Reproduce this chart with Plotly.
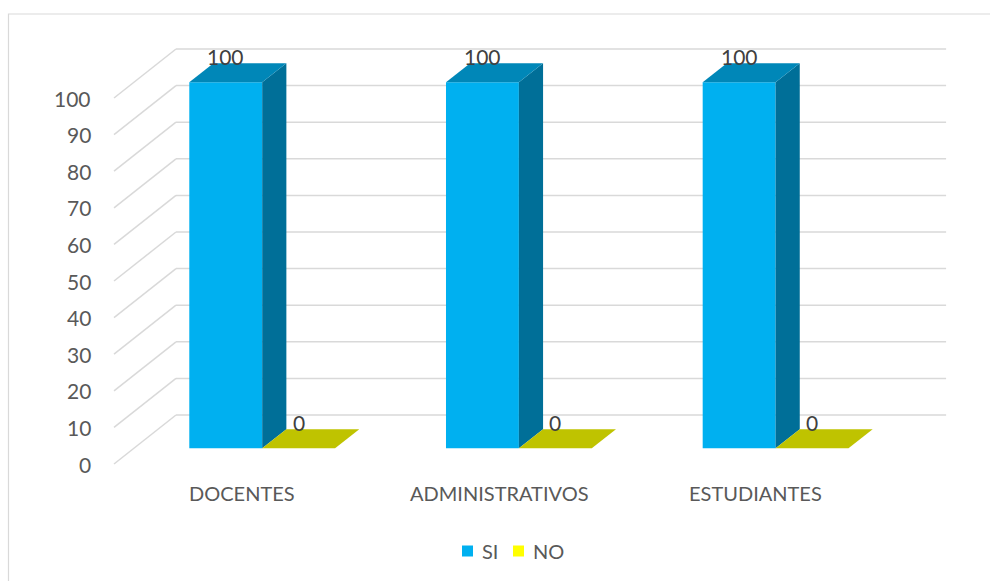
import plotly.graph_objects as go

# ---- data ----
categories = ["DOCENTES", "ADMINISTRATIVOS", "ESTUDIANTES"]
series_names = ["SI", "NO"]
si_values = [100, 100, 100]
no_values = [0, 0, 0]
y_ticks = [0, 10, 20, 30, 40, 50, 60, 70, 80, 90, 100]

# ---- styling ----
FRONT = {"SI": "#00B0F0", "NO": "#FFFF00"}
SIDE = {"SI": "#006F98", "NO": "#A5A800"}
TOP = {"SI": "#0087B8", "NO": "#BFC300"}
GRID = "#D9D9D9"
TEXT = "#595959"
LABEL = "#404040"
FONT = "Lato, 'Open Sans', sans-serif"

W, H = 990, 581
# scale of the front plane in pixels
PX_CAT = 256.7       # one category slot
PX_UNIT = 3.66       # one value unit
LEFT_PX = 114        # front plane, left edge
ZERO_PX = 464        # front plane, value 0
# oblique depth of the 3-D box (full depth), in data units
DX = 62 / PX_CAT
DY = 49 / PX_UNIT
# depth range occupied by the columns
D_FRONT, D_BACK = 0.32, 0.71
BAR_W = 0.284        # column width in category units


def proj(u, v, d):
    """Oblique projection of (category pos, value, depth) to data coords."""
    return u + d * DX, v + d * DY


fig = go.Figure()

# gridlines: back wall horizontals + left wall diagonals
shapes = []
n_cat = len(categories)
for t in y_ticks:
    x0, y0 = proj(0, t, 1)
    x1, y1 = proj(n_cat, t, 1)
    shapes.append(dict(type="line", xref="x", yref="y", x0=x0, y0=y0, x1=x1, y1=y1,
                       line=dict(color=GRID, width=1.5), layer="below"))
    fx, fy = proj(0, t, 0)
    shapes.append(dict(type="line", xref="x", yref="y", x0=fx, y0=fy, x1=x0, y1=y0,
                       line=dict(color=GRID, width=1.5), layer="below"))

# outer chart border
shapes.append(dict(type="rect", xref="paper", yref="paper",
                   x0=8.5 / W, x1=1.02, y0=-0.02, y1=1 - 14 / H,
                   line=dict(color=GRID, width=1.2), layer="below"))

annotations = []

for s_idx, (name, values) in enumerate(zip(series_names, [si_values, no_values])):
    lefts = [i + 0.5 - BAR_W + s_idx * BAR_W for i in range(n_cat)]
    # front faces as bars
    fx = [proj(l + BAR_W / 2, 0, D_FRONT)[0] for l in lefts]
    base = [proj(0, 0, D_FRONT)[1]] * n_cat
    fig.add_trace(go.Bar(
        x=fx, y=values, base=base, width=[BAR_W] * n_cat, name=name,
        marker=dict(color=FRONT[name], line=dict(width=0)),
        showlegend=False, hoverinfo="skip",
    ))
    for l, v in zip(lefts, values):
        r = l + BAR_W
        # side face
        if v > 0:
            pts = [proj(r, 0, D_FRONT), proj(r, 0, D_BACK),
                   proj(r, v, D_BACK), proj(r, v, D_FRONT)]
            fig.add_trace(go.Scatter(
                x=[p[0] for p in pts], y=[p[1] for p in pts], mode="lines",
                fill="toself", fillcolor=SIDE[name], line=dict(width=0),
                showlegend=False, hoverinfo="skip"))
        # top face
        pts = [proj(l, v, D_FRONT), proj(r, v, D_FRONT),
               proj(r, v, D_BACK), proj(l, v, D_BACK)]
        fig.add_trace(go.Scatter(
            x=[p[0] for p in pts], y=[p[1] for p in pts], mode="lines",
            fill="toself", fillcolor=TOP[name], line=dict(width=0),
            showlegend=False, hoverinfo="skip"))
        # value label
        lx = proj(l + BAR_W / 2, v, D_FRONT)[0]
        ly = proj(0, v, D_BACK)[1]
        annotations.append(dict(x=lx, y=ly, xref="x", yref="y", text=str(v),
                                showarrow=False, yanchor="middle", yshift=7,
                                font=dict(family=FONT, size=21, color=LABEL)))

# value axis labels
for t in y_ticks:
    annotations.append(dict(x=0, y=t, xref="x", yref="y", text=str(t),
                            showarrow=False, xanchor="right", xshift=-21,
                            yanchor="middle",
                            font=dict(family=FONT, size=21, color=TEXT)))

# category labels
for i, c in enumerate(categories):
    annotations.append(dict(x=i + 0.5, y=0, xref="x", yref="y", text=c,
                            showarrow=False, yanchor="middle", yshift=-29,
                            font=dict(family=FONT, size=20, color=TEXT)))

# legend: colour key squares with series names
legend_sq_x = [462, 513]
legend_txt_x = [480, 531]
LEG_Y = 551
for name, sx, tx in zip(series_names, legend_sq_x, legend_txt_x):
    shapes.append(dict(type="rect", xref="paper", yref="paper",
                       x0=sx / W, x1=(sx + 11) / W,
                       y0=1 - (LEG_Y + 5.5) / H, y1=1 - (LEG_Y - 5.5) / H,
                       fillcolor=FRONT[name], line=dict(width=0)))
    annotations.append(dict(x=tx / W, y=1 - LEG_Y / H, xref="paper", yref="paper",
                            text=name, showarrow=False, xanchor="left",
                            yanchor="middle",
                            font=dict(family=FONT, size=20, color=TEXT)))

fig.update_layout(
    width=W, height=H,
    margin=dict(l=0, r=0, t=0, b=0),
    paper_bgcolor="white", plot_bgcolor="white",
    barmode="overlay",
    showlegend=False,
    xaxis=dict(range=[-LEFT_PX / PX_CAT, (W - LEFT_PX) / PX_CAT],
               visible=False, fixedrange=True),
    yaxis=dict(range=[-(H - ZERO_PX) / PX_UNIT, ZERO_PX / PX_UNIT],
               visible=False, fixedrange=True),
    shapes=shapes,
    annotations=annotations,
)

fig.write_html("out.html")
